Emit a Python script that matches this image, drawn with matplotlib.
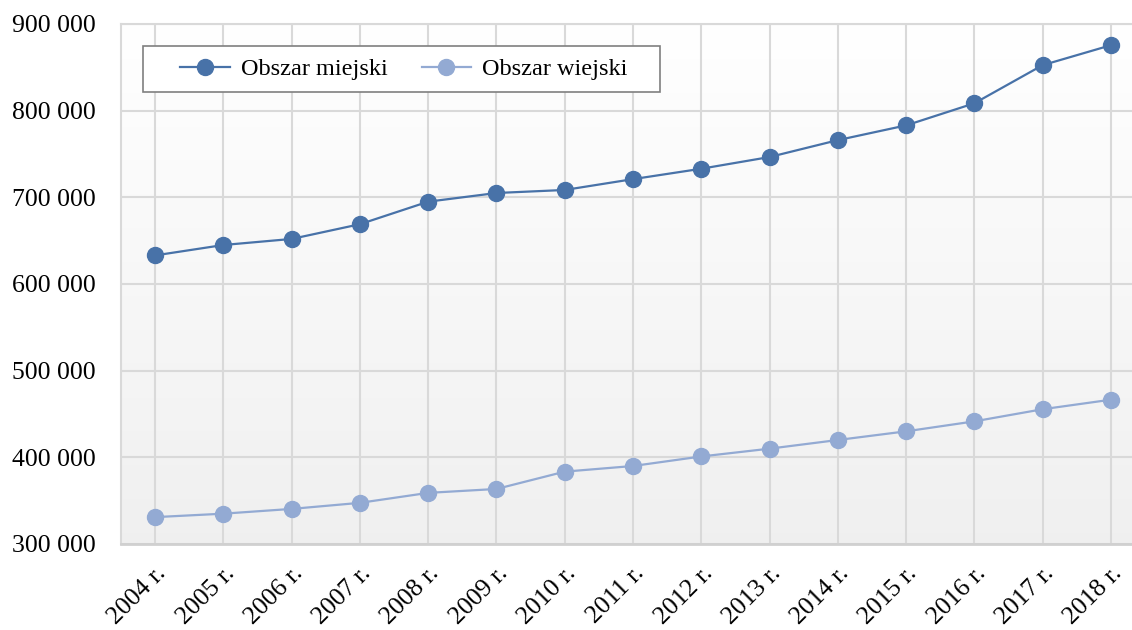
import numpy as np
import matplotlib.pyplot as plt
from matplotlib.patches import Rectangle
from matplotlib.ticker import FuncFormatter

years = ['2004 r.', '2005 r.', '2006 r.', '2007 r.', '2008 r.', '2009 r.', '2010 r.', '2011 r.',
         '2012 r.', '2013 r.', '2014 r.', '2015 r.', '2016 r.', '2017 r.', '2018 r.']
miejski = [633000, 645000, 652000, 669000, 695000, 705000, 708500, 721000,
           733000, 746500, 766000, 783000, 808500, 852500, 875500]
wiejski = [331000, 335000, 340500, 347500, 359000, 363500, 383500, 390000,
           401000, 410000, 420000, 430000, 441500, 455500, 466500]

plt.rcParams['font.family'] = ['Liberation Serif', 'DejaVu Serif']

W, H = 1132, 630
fig = plt.figure(figsize=(W / 100, H / 100), dpi=100)
ax = fig.add_axes([121 / W, (H - 544) / H, (1145 - 121) / W, (544 - 24) / H])

# gradient background, white at top to light grey at bottom
g = np.linspace(1.0, 0.94, 256).reshape(-1, 1, 1)
grad = np.repeat(g, 3, axis=2)
ax.imshow(grad, extent=[0, 1, 0, 1], transform=ax.transAxes, aspect='auto', zorder=0)

x = np.arange(len(years))
ax.plot(x, miejski, color='#4872a8', lw=1.6, marker='o', ms=11.5, label='Obszar miejski', zorder=3)
ax.plot(x, wiejski, color='#93aad3', lw=1.6, marker='o', ms=11.5, label='Obszar wiejski', zorder=3)

ax.set_xlim(-0.5, len(years) - 0.5)
ax.set_ylim(300000, 900000)
ax.set_yticks(range(300000, 900001, 100000))
ax.yaxis.set_major_formatter(FuncFormatter(lambda v, p: f'{int(v):,}'.replace(',', ' ')))
ax.set_xticks(x)
ax.set_xticklabels(years, rotation=45, ha='right', rotation_mode='anchor')

ax.grid(True, axis='both', color='#d9d9d9', lw=1.5, zorder=1)
ax.set_axisbelow(True)
ax.tick_params(axis='both', length=0, labelsize=18.5, colors='black')
ax.tick_params(axis='y', pad=18)
ax.tick_params(axis='x', pad=13)
for s in ax.spines.values():
    s.set_color('#d9d9d9')
    s.set_linewidth(1.5)
ax.spines['bottom'].set_color('#d0d0d0')
ax.spines['bottom'].set_linewidth(2)

# legend frame drawn separately so the inner padding matches
ax.add_patch(Rectangle((143 / W, 1 - 92 / H), (660 - 143) / W, (92 - 46) / H,
                       transform=fig.transFigure, facecolor='white', clip_on=False,
                       edgecolor='#7f7f7f', lw=1.2, zorder=4))
leg = ax.legend(loc='center left', bbox_to_anchor=(180 / W, 1 - 69 / H),
                bbox_transform=fig.transFigure, ncol=2,
                fontsize=17.5, frameon=False, handlelength=2.05, columnspacing=1.4,
                borderpad=0, handletextpad=0.45, borderaxespad=0)
leg.set_zorder(5)

fig.savefig('out.png', dpi=100)
